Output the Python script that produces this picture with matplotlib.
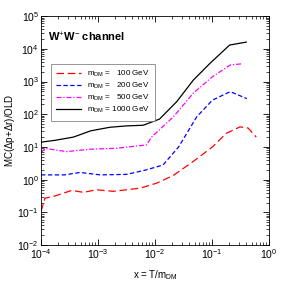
import matplotlib
matplotlib.use("Agg")
import matplotlib.pyplot as plt
import numpy as np

plt.rcParams['font.family'] = ['Liberation Sans', 'DejaVu Sans']
plt.rcParams['mathtext.fontset'] = 'custom'
plt.rcParams['mathtext.rm'] = 'Liberation Sans'
plt.rcParams['mathtext.it'] = 'Liberation Sans'

# data
x100 = [1e-4, 1.17e-4, 1.78e-4, 3.47e-4, 5.5e-4, 9.5e-4, 1.86e-3, 5.5e-3, 1.07e-2, 2.1e-2, 4.7e-2, 0.102, 0.178, 0.31, 0.43, 0.6]
y100 = [0.107, 0.27, 0.32, 0.47, 0.41, 0.49, 0.44, 0.55, 0.78, 1.35, 3.6, 10, 26, 41, 38, 20]
x200 = [1e-4, 2.6e-4, 4.8e-4, 1.1e-3, 3.2e-3, 7.1e-3, 1.38e-2, 2.6e-2, 5.4e-2, 0.102, 0.21, 0.41]
y200 = [1.4, 1.4, 1.66, 1.4, 1.45, 2.0, 2.8, 10, 83, 270, 490, 300]
x500 = [1e-4, 1.2e-4, 2.8e-4, 7.2e-4, 2.1e-3, 7.1e-3, 8.7e-3, 2.1e-2, 4.7e-2, 0.102, 0.21, 0.35]
y500 = [6.8, 9.0, 7.2, 8.5, 9.1, 11.5, 20, 83, 440, 1400, 3200, 3500]
x1000 = [1e-4, 1.78e-4, 3.7e-4, 7.4e-4, 1.62e-3, 3.2e-3, 6.2e-3, 1.2e-2, 2.4e-2, 4.7e-2, 9.1e-2, 0.204, 0.40]
y1000 = [14, 16, 20, 31, 40, 44, 46, 71, 240, 1100, 3500, 13000, 16000]
labels = [r'm$_{\rm DM}$ =   100 GeV', r'm$_{\rm DM}$ =   200 GeV',
          r'm$_{\rm DM}$ =   500 GeV', r'm$_{\rm DM}$ = 1000 GeV']

fig = plt.figure(figsize=(2.87, 2.87), dpi=100)
ax = fig.add_axes([0.143, 0.146, 0.794, 0.798])
ax.plot(x100, y100, color='red', lw=0.9, dashes=(6, 3), label=labels[0])
ax.plot(x200, y200, color='blue', lw=0.9, dashes=(3.5, 2), label=labels[1])
ax.plot(x500, y500, color='magenta', lw=0.9, dashes=(4, 1.5, 1, 1.5), label=labels[2])
ax.plot(x1000, y1000, color='black', lw=0.9, label=labels[3])
ax.set_xscale('log')
ax.set_yscale('log')
ax.set_xlim(1e-4, 1)
ax.set_ylim(1e-2, 1e5)
ax.tick_params(which='both', direction='in', top=True, right=True, labelsize=7.5, pad=1.5)
ax.tick_params(which='major', length=4, width=0.6)
ax.tick_params(which='minor', length=2, width=0.5)
ax.yaxis.set_major_locator(matplotlib.ticker.LogLocator(base=10, numticks=10))
ax.yaxis.set_minor_locator(matplotlib.ticker.LogLocator(base=10, subs=np.arange(2, 10), numticks=20))
for s in ax.spines.values():
    s.set_linewidth(0.6)
ax.set_xlabel(r'x = T/m$_{\rm DM}$', fontsize=7, labelpad=5)
ax.set_ylabel(r'MC($\Delta$p+$\Delta$r)/OLD', fontsize=7, labelpad=0)
ax.text(0.03, 0.935, r'W$^{+}$W$^{-}$ channel', transform=ax.transAxes,
        fontsize=8, fontweight='bold', va='top', ha='left')
leg = ax.legend(loc='upper left', bbox_to_anchor=(0.025, 0.81), fontsize=5.8,
                frameon=True, fancybox=False, edgecolor='0.4', handlelength=3,
                borderpad=0.7, labelspacing=0.2, handletextpad=0.8)
leg.get_frame().set_linewidth(0.6)
fig.savefig('out.png', dpi=100)
